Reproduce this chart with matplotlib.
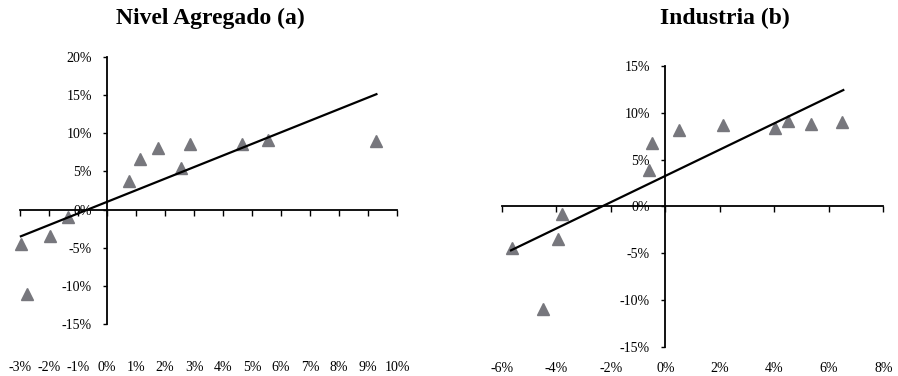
import matplotlib
matplotlib.use('Agg')
import matplotlib.pyplot as plt
from matplotlib.ticker import FuncFormatter

plt.rcParams['font.family'] = ['Liberation Serif', 'DejaVu Serif']

# Nivel agregado (a)
agg_x = [-2.97, -2.76, -1.97, -1.36, 0.75, 1.15, 1.75, 2.55, 2.85, 4.67, 5.55, 9.29]
agg_y = [-4.47, -11.05, -3.50, -0.96, 3.73, 6.67, 8.03, 5.39, 8.55, 8.60, 9.12, 8.99]
agg_line_x = [-2.97, 9.29]
agg_line_y = [-3.50, 15.13]
agg_xticks = list(range(-3, 11))
agg_yticks = [-15, -10, -5, 0, 5, 10, 15, 20]

# Industria (b)
ind_x = [-5.61, -4.50, -3.95, -3.80, -0.61, -0.50, 0.51, 2.11, 4.02, 4.49, 5.34, 6.50]
ind_y = [-4.49, -10.94, -3.46, -0.82, 3.85, 6.73, 8.12, 8.69, 8.41, 9.16, 8.80, 9.01]
ind_line_x = [-5.66, 6.53]
ind_line_y = [-4.70, 12.43]
ind_xticks = [-6, -4, -2, 0, 2, 4, 6, 8]
ind_yticks = [-15, -10, -5, 0, 5, 10, 15]

pct = FuncFormatter(lambda v, pos: '%d%%' % round(v))
marker_color = '#77777d'

fig = plt.figure(figsize=(8.98, 3.76), dpi=100)


def panel(rect, xs, ys, lx, ly, xticks, yticks, label_y):
    ax = fig.add_axes(rect)
    ax.plot(xs, ys, linestyle='none', marker='^', markersize=8.5,
            color=marker_color, zorder=3, clip_on=False)
    ax.plot(lx, ly, color='black', linewidth=1.6, zorder=4, clip_on=False)
    ax.set_xlim(xticks[0], xticks[-1])
    ax.set_ylim(yticks[0], yticks[-1])

    # axes crossing at zero
    ax.spines['left'].set_position(('data', 0))
    ax.spines['bottom'].set_position(('data', 0))
    ax.spines['right'].set_visible(False)
    ax.spines['top'].set_visible(False)
    for s in ('left', 'bottom'):
        ax.spines[s].set_linewidth(1.3)

    ax.set_yticks(yticks)
    ax.yaxis.set_major_formatter(pct)
    ax.set_xticks(xticks)
    ax.tick_params(axis='x', direction='out', length=4, width=1, labelbottom=False)
    ax.tick_params(axis='y', direction='out', length=3, width=1, labelsize=10, pad=8)

    # x labels sit low, below the plot area
    sec = ax.secondary_xaxis(label_y)
    sec.set_xticks(xticks)
    sec.xaxis.set_major_formatter(pct)
    sec.tick_params(length=0, labelsize=10, pad=0)
    sec.spines['bottom'].set_visible(False)
    return ax


panel([0.0223, 0.1383, 0.4198, 0.710], agg_x, agg_y, agg_line_x, agg_line_y,
      agg_xticks, agg_yticks, -0.14)
panel([0.5587, 0.0779, 0.4250, 0.7465], ind_x, ind_y, ind_line_x, ind_line_y,
      ind_xticks, ind_yticks, -0.053)

fig.text(0.234, 0.936, 'Nivel Agregado (a)', ha='center', va='baseline',
         fontsize=17, fontweight='bold')
fig.text(0.807, 0.936, 'Industria (b)', ha='center', va='baseline',
         fontsize=17, fontweight='bold')

fig.savefig('out.png', dpi=100)
